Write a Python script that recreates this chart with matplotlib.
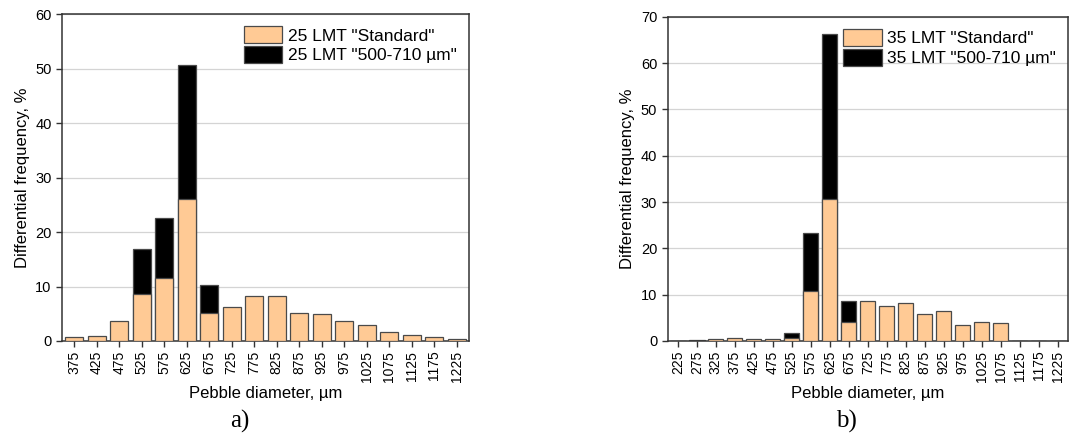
import numpy as np
import matplotlib
matplotlib.use('Agg')
import matplotlib.pyplot as plt

plt.rcParams['font.family'] = ['Liberation Sans', 'DejaVu Sans']

# 25 LMT batch
sizes_a = ['375', '425', '475', '525', '575', '625', '675', '725', '775', '825',
           '875', '925', '975', '1025', '1075', '1125', '1175', '1225']
std_a = [0.7, 0.9, 3.7, 8.6, 11.6, 26.0, 5.2, 6.2, 8.3, 8.2,
         5.1, 5.0, 3.6, 2.9, 1.65, 1.1, 0.75, 0.3]
sieved_a = [0, 0, 0, 16.8, 22.6, 50.6, 10.2, 0, 0, 0,
            0, 0, 0, 0, 0, 0, 0, 0]

# 35 LMT batch
sizes_b = ['225', '275', '325', '375', '425', '475', '525', '575', '625', '675',
           '725', '775', '825', '875', '925', '975', '1025', '1075', '1125',
           '1175', '1225']
std_b = [0, 0.1, 0.4, 0.6, 0.35, 0.35, 0.7, 10.9, 30.7, 4.0,
         8.7, 7.5, 8.1, 5.9, 6.5, 3.45, 4.1, 3.8, 0, 0, 0]
sieved_b = [0, 0.2, 0, 0, 0, 0, 1.7, 23.4, 66.3, 8.7,
            0, 0, 0, 0, 0, 0, 0, 0, 0, 0, 0]

ORANGE = '#FFCA95'
EDGE = '#4a4a4a'


def draw(ax, sizes, std, sieved, ymax, name):
    x = np.arange(len(sizes))
    ax.bar(x, sieved, width=0.8, color='black', edgecolor=EDGE, linewidth=0.9,
           label=f'{name} "500-710 µm"', zorder=2)
    ax.bar(x, std, width=0.8, color=ORANGE, edgecolor=EDGE, linewidth=0.9,
           label=f'{name} "Standard"', zorder=3)
    ax.set_xlim(-0.54, len(sizes) - 0.46)
    ax.set_ylim(0, ymax)
    ax.set_yticks(np.arange(0, ymax + 1, 10))
    ax.set_xticks(x)
    ax.set_xticklabels(sizes, rotation=90, fontsize=10)
    ax.tick_params(axis='y', labelsize=10.5, length=4, width=1, color='#333333')
    ax.tick_params(axis='x', length=4, width=1, color='#333333', pad=3)
    ax.grid(axis='y', color='#d4d4d4', linewidth=0.9, zorder=0)
    ax.set_axisbelow(True)
    for s in ax.spines.values():
        s.set_color('#333333')
        s.set_linewidth(1.1)
    ax.set_xlabel('Pebble diameter, µm', fontsize=12, labelpad=3)
    ax.set_ylabel('Differential frequency, %', fontsize=12, labelpad=4)
    h, l = ax.get_legend_handles_labels()
    ax.legend(h[::-1], l[::-1], loc='upper right', frameon=False, fontsize=12.5,
              handlelength=2.2, handleheight=1.1, labelspacing=0.15,
              handletextpad=0.3, borderaxespad=0.3)


fig = plt.figure(figsize=(10.7, 4.41), dpi=100)
ax1 = fig.add_axes([0.058, 0.2268, 0.380, 0.741])
ax2 = fig.add_axes([0.624, 0.2268, 0.374, 0.735])
draw(ax1, sizes_a, std_a, sieved_a, 60, '25 LMT')
draw(ax2, sizes_b, std_b, sieved_b, 70, '35 LMT')

fig.text(0.224, 0.045, 'a)', family=['Liberation Serif'], fontsize=18, ha='center', va='center')
fig.text(0.791, 0.045, 'b)', family=['Liberation Serif'], fontsize=18, ha='center', va='center')

fig.savefig('out.png', dpi=100)
